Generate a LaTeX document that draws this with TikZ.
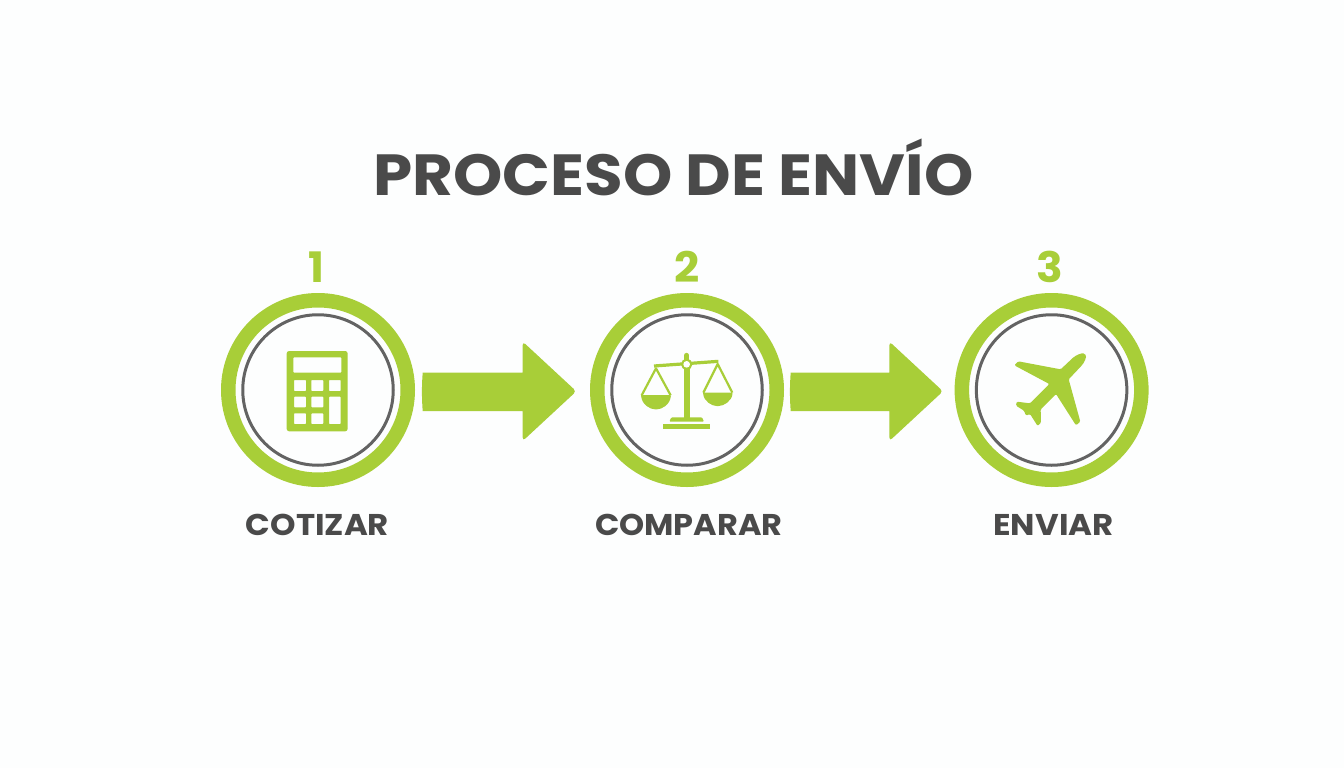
\documentclass[tikz,border=0pt]{standalone}
\usepackage{fontspec}
\setmainfont{Poppins}
\usetikzlibrary{calc}
\definecolor{leaf}{HTML}{A8CE38}
\definecolor{ink}{HTML}{4A4A4A}
\definecolor{rim}{HTML}{636363}
\definecolor{paper}{HTML}{FDFEFE}
\tikzset{
  outerring/.style={circle,draw=leaf,line width=14.5pt,minimum size=179.5pt,inner sep=0pt},
  innerring/.style={circle,draw=rim,line width=3pt,minimum size=150.5pt,inner sep=0pt},
  titletext/.style={anchor=base,inner sep=0pt,text=ink,font=\fontsize{58}{60}\selectfont\bfseries},
  numtext/.style={anchor=base,inner sep=0pt,text=leaf,font=\fontsize{42}{44}\selectfont\bfseries},
  labeltext/.style={anchor=base,inner sep=0pt,text=ink,font=\fontsize{30}{32}\selectfont\bfseries},
  fatarrow/.style={fill=leaf},
  zoomed/.style={x=0.33333pt,y=-0.33333pt}
}
\newcommand{\fatarrowpath}[2]{%
  \fill[fatarrow] ($(#1)+(0,-18.7)$) -- ($(#2)+(-52.6,-18.7)$)
    [rounded corners=3.5pt] -- ($(#2)+(-52.6,-49.7)$) -- ($(#2)+(1,0)$) -- ($(#2)+(-52.6,49.7)$)
    [sharp corners] -- ($(#2)+(-52.6,19.7)$) -- ($(#1)+(0,19.7)$)
    .. controls ($(#1)+(-1,7)$) and ($(#1)+(-1,-6)$) .. cycle;}
\begin{document}
\begin{tikzpicture}[x=1pt,y=-1pt]
\fill[paper] (0,0) rectangle (1344,768);
\useasboundingbox (0,0) rectangle (1344,768);

\node[titletext] (title) at (673.5,195.5) {\scalebox{1.082}[1]{PROCESO DE ENVÍO}};

\node[outerring] (c1) at (318,390) {};
\node[outerring] (c2) at (687,390) {};
\node[outerring] (c3) at (1051.6,390) {};
\node[innerring] (r1) at (c1) {};
\node[innerring] (r2) at (c2) {};
\node[innerring] (r3) at (c3) {};

\node[numtext] (n1) at (316.5,282.5) {1};
\node[numtext] (n2) at (687,282.5) {\scalebox{1.05}[1]{2}};
\node[numtext] (n3) at (1050,282.5) {\scalebox{1.05}[1]{3}};

\node[labeltext] (l1) at (317.5,535.8) {\scalebox{1.08}[1]{COTIZAR}};
\node[labeltext] (l2) at (688.8,535.8) {\scalebox{1.065}[1]{COMPARAR}};
\node[labeltext] (l3) at (1053.5,535.8) {\scalebox{1.08}[1]{ENVIAR}};

% arrows
\coordinate (a1s) at ($(c1.east)+(7.7,1.3)$);
\coordinate (a1t) at ($(c2.west)+(-14.7,1.3)$);
\coordinate (a2s) at ($(c2.east)+(6.7,1.3)$);
\coordinate (a2t) at ($(c3.west)+(-12.6,1.3)$);
\fatarrowpath{a1s}{a1t}
\fatarrowpath{a2s}{a2t}

% calculator
\begin{scope}[shift={(210,240)},zoomed]
\fill[leaf,even odd rule,rounded corners=2.5pt]
  (230,333) rectangle (413,574)
  [rounded corners=0.6pt]
  (250,352) rectangle (394,398)
  (252,420) rectangle (288,453) (304,420) rectangle (340,453) (357,420) rectangle (392,453)
  (252,470) rectangle (288,502) (304,470) rectangle (340,502) (357,470) rectangle (392,552)
  (252,520) rectangle (288,552) (304,520) rectangle (340,552);
\end{scope}

% scales
\begin{scope}[shift={(580,240)},zoomed]
\fill[leaf] (311,373) -- (311,535) -- (329,535) -- (329,373) -- cycle;
\fill[leaf,rounded corners=1pt] (268,545) -- (274,532) -- (366,532) -- (372,545) -- cycle;
\fill[leaf] (250,552) rectangle (390,566);
\draw[leaf,line width=3.2pt] (222,378) -- (415,364);
\draw[leaf,line width=5pt,line cap=round] (320,346) -- (320,360);
\draw[leaf,line width=2.2pt,line join=round] (185,466) -- (228,385) -- (272,466);
\draw[leaf,line width=2.2pt,line join=round] (370,458) -- (413,372) -- (457,458);
\fill[leaf,rounded corners=1pt] (183,465) -- (273,465) .. controls (270,495) and (245,508) .. (228,508) .. controls (211,508) and (186,495) .. cycle;
\fill[leaf,rounded corners=1pt] (369,458) -- (458,458) .. controls (455,485) and (430,498) .. (413,498) .. controls (396,498) and (372,485) .. cycle;
\fill[leaf] (320,373) circle (17);
\fill[white] (320,373) circle (10);
\end{scope}

% plane
\begin{scope}[shift={(950,240)},zoomed]
\fill[leaf,line join=round,rounded corners=1.2pt]
  (366,356) .. controls (378,345) and (396,338) .. (404,342)
  .. controls (412,350) and (402,370) .. (390,382)
  -- (356,418) -- (391,545) -- (378,556) -- (318,462) -- (272,508) -- (273,548) -- (263,558)
  -- (240,522) -- (228,527) -- (222,512) -- (198,497) -- (200,485) -- (240,490) -- (298,432)
  -- (193,376) -- (205,364) -- (332,388) -- cycle;
\end{scope}
\end{tikzpicture}
\end{document}
